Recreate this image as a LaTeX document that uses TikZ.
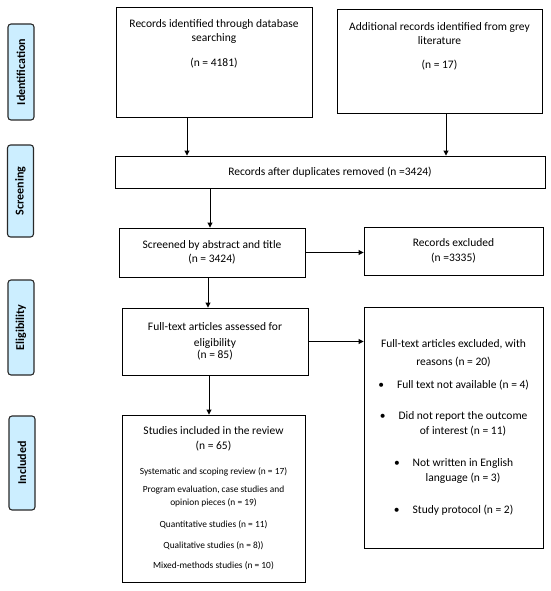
\documentclass[tikz,border=0pt]{standalone}
\usepackage{fontspec}
\setmainfont{Carlito}
\usetikzlibrary{arrows.meta,positioning}
\definecolor{stagefill}{RGB}{204,238,255}
\definecolor{stageline}{RGB}{40,40,40}
\newcommand{\reasonitem}[1]{\hspace*{19pt}\llap{\textbullet\hspace{13pt}}#1}
\begin{document}
\begin{tikzpicture}[x=1pt,y=1pt,yscale=-1,
  box/.style={draw=black,line width=0.9pt,inner sep=0pt,align=center,font=\fontsize{11.5}{14.5}\selectfont},
  txt/.style={inner sep=0pt,align=center,font=\fontsize{11.5}{14.5}\selectfont},
  stage/.style={draw=stageline,fill=stagefill,line width=1.1pt,rounded corners=3pt,rotate=90,inner sep=0pt,minimum height=26pt,font=\fontsize{12}{14}\selectfont\bfseries},
  flow/.style={-{Triangle[length=5pt,width=5pt]},line width=0.9pt}]
\useasboundingbox (0,0) rectangle (550,591);

%Shape: Stage labels
\node[stage,minimum width=96pt] (ident) at (21,72) {Identification};
\node[stage,minimum width=92pt] (scr) at (20.5,191) {Screening};
\node[stage,minimum width=95pt] (elig) at (21,327.5) {Eligibility};
\node[stage,minimum width=94pt] (inc) at (22,463) {Included};

%Shape: Rectangle
\node[box,minimum width=196pt,minimum height=110pt] (dbs) at (214,62) {};
% Text Node
\node[txt,anchor=north] (dbstxt) at (214,19) {Records identified through database\\searching\\[10pt](n = 4181)};
%Shape: Rectangle
\node[box,minimum width=205pt,minimum height=104pt] (grey) at (439.5,61) {};
% Text Node
\node[txt,anchor=north] (greytxt) at (439.5,22) {Additional records identified from grey\\literature\\[9pt](n = 17)};

%Shape: Rectangle
\node[box,minimum width=430pt,minimum height=32pt] (dup) at (330,172) {Records after duplicates removed (n =3424)};
%Shape: Rectangle
\node[box,minimum width=186pt,minimum height=49pt] (screen) at (212,252.5) {Screened by abstract and title\\(n = 3424)};
%Shape: Rectangle
\node[box,minimum width=179pt,minimum height=48pt] (excl) at (453.5,251) {Records excluded\\(n =3335)};
%Shape: Rectangle
\node[box,minimum width=186pt,minimum height=67pt] (full) at (215,341.5) {Full-text articles assessed for\\[1pt]eligibility\\[-2pt](n = 85)};
%Shape: Rectangle
\node[box,minimum width=179pt,minimum height=241pt,font=\fontsize{11.5}{15.5}\selectfont] (reasons) at (453.5,427.5) {Full-text articles excluded, with\\[2pt]reasons (n = 20)\\[8pt]
  \reasonitem{Full text not available (n = 4)}\\[15pt]
  \reasonitem{Did not report the outcome}\\\hspace*{19pt}of interest (n = 11)\\[16pt]
  \reasonitem{Not written in English}\\\hspace*{19pt}language (n = 3)\\[16pt]
  \reasonitem{Study protocol (n = 2)}};
%Shape: Rectangle
\node[box,minimum width=183pt,minimum height=167pt,font=\fontsize{9.4}{13}\selectfont] (incl) at (213.5,498.5) {{\fontsize{11.5}{13}\selectfont Studies included in the review}\\[2pt]
  {\fontsize{11.5}{13}\selectfont (n = 65)}\\[12pt]
  Systematic and scoping review (n = 17)\\[5pt]
  Program evaluation, case studies and\\opinion pieces (n = 19)\\[9pt]
  Quantitative studies (n = 11)\\[8pt]
  Qualitative studies (n = 8))\\[7pt]
  Mixed-methods studies (n = 10)};

%Straight Lines
\draw[flow] ([xshift=-27pt]dbs.south) -- ([xshift=-27pt]dbs.south |- dup.north);
\draw[flow] ([xshift=6.5pt]grey.south) -- ([xshift=6.5pt]grey.south |- dup.north);
\draw[flow] ([xshift=-2pt]screen.north |- dup.south) -- ([xshift=-2pt]screen.north);
\draw[flow] (screen.east) -- (screen.east -| excl.west);
\draw[flow] ([xshift=-4pt]screen.south) -- ([xshift=-4pt]screen.south |- full.north);
\draw[flow] (full.east) -- (full.east -| reasons.west);
\draw[flow] ([xshift=-6pt]full.south) -- ([xshift=-6pt]full.south |- incl.north);

\end{tikzpicture}
\end{document}
